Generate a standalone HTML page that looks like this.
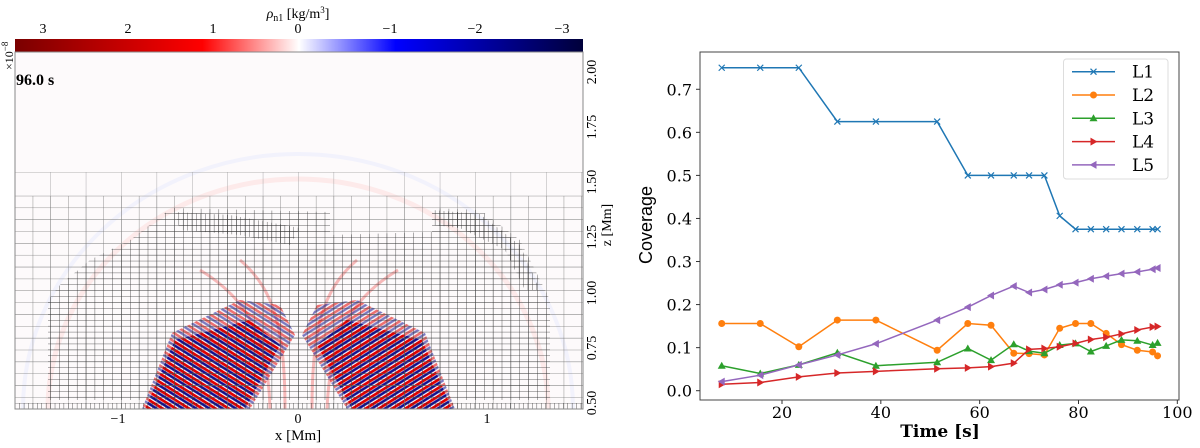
<!DOCTYPE html>
<html><head><meta charset="utf-8">
<style>
html,body{margin:0;padding:0;background:#fff;width:1200px;height:448px;overflow:hidden}
svg{position:absolute;left:0;top:0;overflow:hidden}
</style></head>
<body>
<svg id="left" width="620" height="448" xmlns="http://www.w3.org/2000/svg" font-family="Liberation Serif, serif">
<defs>
<linearGradient id="cbg" x1="0" x2="1" y1="0" y2="0">
<stop offset="0" stop-color="#7a0000"/><stop offset="0.33" stop-color="#ff0000"/><stop offset="0.5" stop-color="#ffffff"/><stop offset="0.67" stop-color="#0000ff"/><stop offset="1" stop-color="#00003a"/>
</linearGradient>
<pattern id="g1" width="35.4" height="23.7" patternUnits="userSpaceOnUse" x="15" y="172"><path d="M0 0H35.4M0 0V23.7" stroke="#999" stroke-width="0.8" fill="none"/></pattern>
<pattern id="g2" width="17.7" height="11.85" patternUnits="userSpaceOnUse" x="15" y="172"><path d="M0 0H17.7M0 0V11.85" stroke="#777" stroke-width="0.8" fill="none"/></pattern>
<pattern id="g3" width="8.85" height="5.92" patternUnits="userSpaceOnUse" x="15" y="172"><path d="M0 0H8.85M0 0V5.92" stroke="#333" stroke-width="0.8" fill="none"/></pattern>
<pattern id="g4" width="4.42" height="5.92" patternUnits="userSpaceOnUse" x="15" y="172"><path d="M0 0H4.42M0 0V5.92" stroke="#333" stroke-width="0.8" fill="none"/></pattern>
<pattern id="wl" width="20" height="7" patternUnits="userSpaceOnUse" patternTransform="rotate(32)"><rect width="20" height="2.6" fill="#e00000"/><rect y="3.3" width="20" height="2.4" fill="#101090"/></pattern>
<pattern id="wr" width="20" height="7" patternUnits="userSpaceOnUse" patternTransform="rotate(-32)"><rect width="20" height="2.6" fill="#e00000"/><rect y="3.3" width="20" height="2.4" fill="#101090"/></pattern>
<clipPath id="plot"><rect x="15" y="52" width="568" height="357"/></clipPath>
</defs>
<text x="298" y="18" font-size="14" text-anchor="middle"><tspan font-style="italic">ρ</tspan><tspan font-size="10" dy="3">n1</tspan><tspan dy="-3"> [kg/m</tspan><tspan font-size="9" dy="-5">3</tspan><tspan dy="5">]</tspan></text>
<g font-size="14" text-anchor="middle">
<text x="43" y="33">3</text><text x="128" y="33">2</text><text x="213" y="33">1</text><text x="298" y="33">0</text><text x="390" y="33">−1</text><text x="475" y="33">−2</text><text x="562" y="33">−3</text>
</g>
<rect x="15" y="39" width="568" height="13" fill="url(#cbg)"/>
<g clip-path="url(#plot)">
<rect x="15" y="52" width="568" height="357" fill="#fdfafb"/>
<ellipse cx="298" cy="409" rx="250" ry="230" fill="none" stroke="#fdeaea" stroke-width="5"/>
<ellipse cx="298" cy="409" rx="275" ry="255" fill="none" stroke="#f2f2fc" stroke-width="4"/>
<path d="M270 409 C268 340 250 300 200 270 M285 409 C285 330 275 290 240 260 M312 409 C312 330 322 290 357 260 M327 409 C330 340 348 300 398 270" stroke="#f6b8b8" stroke-width="3" fill="none"/>
<polygon points="142,409 250,409 295,335 280,305 240,300 172,333" fill="url(#wl)" opacity="0.55"/>
<polygon points="455,409 347,409 302,335 317,305 357,300 425,333" fill="url(#wr)" opacity="0.55"/>
<polygon points="145,409 245,409 280,345 250,320 175,340" fill="url(#wl)"/>
<polygon points="452,409 352,409 317,345 347,320 422,340" fill="url(#wr)"/>
<rect x="15" y="172" width="568" height="237" fill="url(#g1)"/>
<rect x="15" y="196" width="568" height="213" fill="url(#g2)"/>
<polygon points="172,208 330,212 330,235 432,232 432,208 480,210 520,240 540,280 550,300 550,400 48,400 48,300 60,285 90,260 130,240" fill="url(#g3)"/>
<polygon points="175,212 230,215 300,228 290,245 240,235 180,230" fill="url(#g4)"/>
<polygon points="432,210 480,214 520,245 540,290 525,290 505,250 460,228 432,225" fill="url(#g4)"/>
<rect x="15" y="403" width="568" height="6" fill="url(#g4)"/>
</g>
<rect x="15" y="52" width="568" height="357" fill="none" stroke="#888" stroke-width="1"/>
<text x="16" y="85" font-size="16" font-weight="bold">96.0 s</text>
<text transform="translate(13,70) rotate(-90)" font-size="12">×10<tspan font-size="9" dy="-5">−8</tspan></text>
<g font-size="14" text-anchor="middle">
<text x="118" y="423">−1</text><text x="298" y="423">0</text><text x="487" y="423">1</text>
</g>
<text x="298" y="440" font-size="15" text-anchor="middle">x [Mm]</text>
<g font-size="14" text-anchor="middle">
<text transform="translate(596,72) rotate(-90)">2.00</text>
<text transform="translate(596,127) rotate(-90)">1.75</text>
<text transform="translate(596,182) rotate(-90)">1.50</text>
<text transform="translate(596,237) rotate(-90)">1.25</text>
<text transform="translate(596,293) rotate(-90)">1.00</text>
<text transform="translate(596,348) rotate(-90)">0.75</text>
<text transform="translate(596,403) rotate(-90)">0.50</text>
</g>
<text transform="translate(611,225) rotate(-90)" font-size="14" text-anchor="middle">z [Mm]</text>
</svg>

<svg id="right" width="1200" height="448" style="left:0;top:0;pointer-events:none" xmlns="http://www.w3.org/2000/svg"></svg>

<script>
const times = [7.8,15.6,23.4,31.2,39,51.4,57.6,62.3,66.9,70,73.1,76.2,79.4,82.5,85.6,88.7,91.9,95,96];
const L1 = [0.75,0.75,0.75,0.625,0.625,0.625,0.5,0.5,0.5,0.5,0.5,0.406,0.375,0.375,0.375,0.375,0.375,0.375,0.375];
const L2 = [0.156,0.156,0.102,0.164,0.164,0.094,0.156,0.152,0.087,0.086,0.083,0.145,0.156,0.156,0.133,0.107,0.094,0.09,0.081];
const L3 = [0.058,0.040,0.060,0.088,0.058,0.066,0.098,0.071,0.108,0.092,0.087,0.106,0.110,0.091,0.104,0.118,0.116,0.106,0.111];
const L4 = [0.015,0.019,0.032,0.041,0.045,0.051,0.053,0.056,0.064,0.096,0.098,0.102,0.110,0.119,0.124,0.132,0.141,0.148,0.149];
const L5 = [0.021,0.036,0.060,0.083,0.109,0.164,0.194,0.221,0.243,0.228,0.235,0.246,0.251,0.260,0.266,0.272,0.276,0.282,0.285];
const seriesNames = ["L1","L2","L3","L4","L5"];
const xTicks = [20,40,60,80,100];
const yTicks = [0.0,0.1,0.2,0.3,0.4,0.5,0.6,0.7];

const NS = "http://www.w3.org/2000/svg";
const svg = document.getElementById('right');
const X0=700,X1=1179,Y0=52,Y1=400;
const xs = t => 782 + (t-20)*4.9415;
const ys = v => 390.7 - v*430.6;
function mk(tag, attrs, parent){const e=document.createElementNS(NS,tag);for(const k in attrs)e.setAttribute(k,attrs[k]);(parent||svg).appendChild(e);return e;}

const frame = mk('rect',{x:X0,y:Y0,width:X1-X0,height:Y1-Y0,fill:'none',stroke:'#444','stroke-width':1});



xTicks.forEach(t=>{
  const l=mk('line',{x1:xs(t),x2:xs(t),y1:Y1,y2:Y1+4,stroke:'#333'});
  
  
  const tx=mk('text',{x:xs(t),y:Y1+18,'font-size':16,'text-anchor':'middle','font-family':'DejaVu Serif, serif'});
  tx.textContent=t;
  
  
});
yTicks.forEach(v=>{
  const l=mk('line',{x1:X0-4,x2:X0,y1:ys(v),y2:ys(v),stroke:'#333'});
  
  
  const tx=mk('text',{x:X0-8,y:ys(v)+6,'font-size':16,'text-anchor':'end','font-family':'DejaVu Serif, serif'});
  tx.textContent=v.toFixed(1);
  
  
});
const xt=mk('text',{x:940,y:437,'font-size':17,'font-weight':'bold','text-anchor':'middle','font-family':'DejaVu Serif, serif'});
xt.textContent='Time [s]';


const yt=mk('text',{transform:'translate(652,225) rotate(-90)','font-size':18,'text-anchor':'middle','font-family':'Liberation Sans Narrow, Liberation Sans, sans-serif'});
yt.textContent='Coverage';



const colors=['#1f77b4','#ff7f0e','#2ca02c','#d62728','#9467bd'];
const data=[L1,L2,L3,L4,L5];
function marker(type,x,y,c,g){
  if(type===0){return mk('path',{d:`M${x-3} ${y-3}L${x+3} ${y+3}M${x-3} ${y+3}L${x+3} ${y-3}`,stroke:c,'stroke-width':1.2},g);}
  if(type===1){return mk('circle',{cx:x,cy:y,r:3.5,fill:c},g);}
  if(type===2){return mk('path',{d:`M${x} ${y-4}L${x+4} ${y+3}L${x-4} ${y+3}Z`,fill:c},g);}
  if(type===3){return mk('path',{d:`M${x+4} ${y}L${x-3} ${y-4}L${x-3} ${y+4}Z`,fill:c},g);}
  return mk('path',{d:`M${x-4} ${y}L${x+3} ${y-4}L${x+3} ${y+4}Z`,fill:c},g);
}
data.forEach((arr,i)=>{
  const g=mk('g',{});
  
  
  const p=mk('polyline',{points:arr.map((v,j)=>xs(times[j])+','+ys(v)).join(' '),fill:'none',stroke:colors[i],'stroke-width':1.5},g);
  
  
  arr.forEach((v,j)=>{
    const m=marker(i,xs(times[j]),ys(v),colors[i],g);
    
    
  });
});
const lg=mk('g',{});


mk('rect',{x:1063.5,y:59,width:104.5,height:120,rx:3,fill:'#fff',stroke:'#ddd'},lg);
seriesNames.forEach((n,i)=>{
  const y=71.7+i*23.3;
  const e=mk('g',{},lg);
  
  
  mk('line',{x1:1072,x2:1115,y1:y,y2:y,stroke:colors[i],'stroke-width':1.5},e);
  marker(i,1093.5,y,colors[i],e);
  const t=mk('text',{x:1132,y:y+6,'font-size':17,'font-family':'DejaVu Serif, serif'},e);
  t.textContent=n;
});
</script>
</body></html>
